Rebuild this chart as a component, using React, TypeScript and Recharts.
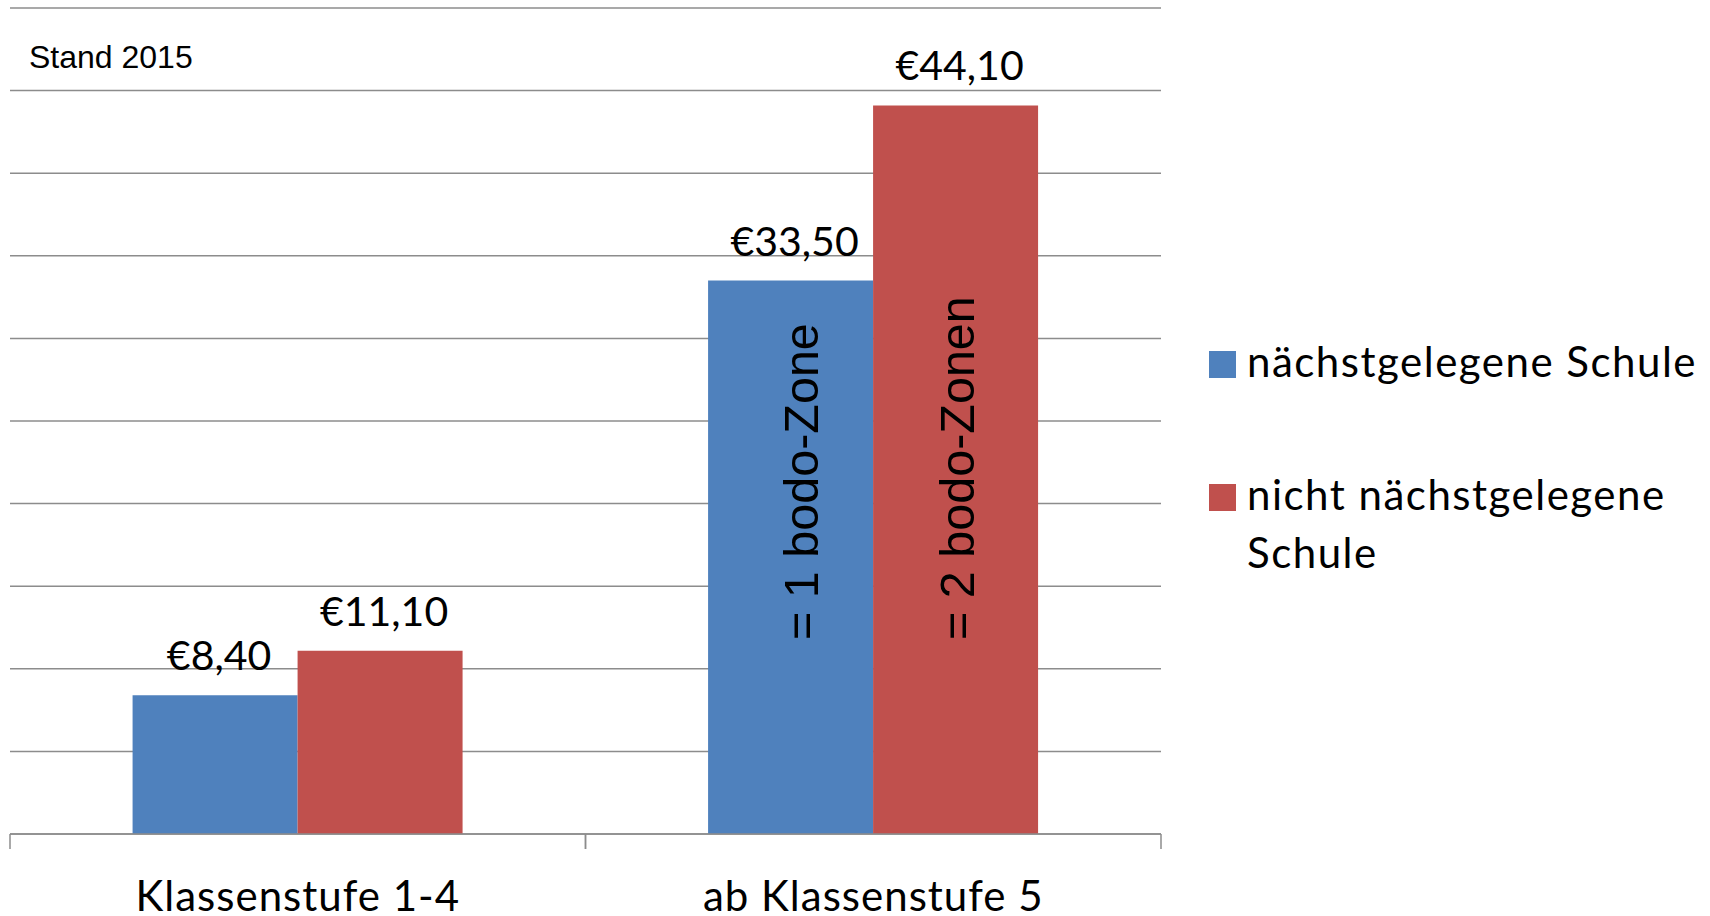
import React from 'react';
import { BarChart, Bar, XAxis, YAxis, CartesianGrid, LabelList, Legend } from 'recharts';

const categories = ['Klassenstufe 1-4', 'ab Klassenstufe 5'];
const naechstgelegene = [8.4, 33.5];
const nichtNaechstgelegene = [11.1, 44.1];
const zoneNotesA = ['', '= 1 bodo-Zone'];
const zoneNotesB = ['', '= 2 bodo-Zonen'];
const seriesNames = ['nächstgelegene Schule', 'nicht nächstgelegene Schule'];
const yTicks = [0, 5, 10, 15, 20, 25, 30, 35, 40, 45, 50];
const subtitle = 'Stand 2015';

const BLUE = '#4F81BD';
const RED = '#C0504D';
const GRID = '#8c8c8c';
const LABEL_FONT = 'Lato, "Open Sans", sans-serif';
const TICK_MARGIN = 47;
const TICK_LEN = 15;

const data = categories.map((c, i) => ({
  cat: c,
  a: naechstgelegene[i],
  b: nichtNaechstgelegene[i],
  na: zoneNotesA[i],
  nb: zoneNotesB[i],
}));

const euro = (v: any) => `€${Number(v).toFixed(2).replace('.', ',')}`;

const makeZoneLabel = (dx: number) => (props: any) => {
  const { x, y, width, height, value } = props;
  if (!value) return null;
  const cx = Number(x) + Number(width) / 2 + dx;
  const cy = Number(y) + Number(height) - 194;
  return (
    <text
      x={cx}
      y={cy}
      transform={`rotate(-90 ${cx} ${cy})`}
      textAnchor="start"
      fontFamily='"Liberation Sans", Arial, sans-serif'
      fontSize={48.5}
      fill="#000"
    >
      {value}
    </text>
  );
};

const renderCatTick = (props: any) => {
  const { x, y, payload } = props;
  const half = Number(payload && payload.offset) || 0;
  const axisY = Number(y) - TICK_MARGIN;
  return (
    <g>
      <line x1={x - half} x2={x - half} y1={axisY} y2={axisY + TICK_LEN} stroke={GRID} strokeWidth={1.5} />
      <line x1={x + half} x2={x + half} y1={axisY} y2={axisY + TICK_LEN} stroke={GRID} strokeWidth={1.5} />
      <text
        x={x}
        y={y}
        dy="0.71em"
        textAnchor="middle"
        fontFamily={LABEL_FONT}
        fontSize={42}
        letterSpacing={1}
        fill="#000"
      >
        {payload.value}
      </text>
    </g>
  );
};

const renderLegend = (props: any) => {
  const payload = [...(props.payload || [])].sort(
    (p: any, q: any) => seriesNames.indexOf(p.value) - seriesNames.indexOf(q.value)
  );
  return (
    <div style={{ fontFamily: LABEL_FONT, fontSize: 42, letterSpacing: 1.5, lineHeight: '58px', color: '#000' }}>
      {payload.map((entry: any, i: number) => (
        <div
          key={i}
          style={{ display: 'flex', alignItems: 'flex-start', marginBottom: i === 0 ? 75 : 0 }}
        >
          <span
            style={{
              width: 27,
              height: 27,
              background: entry.color,
              marginTop: 19,
              marginRight: 11,
              flex: 'none',
              display: 'inline-block',
            }}
          />
          <span style={{ width: 455 }}>{entry.value}</span>
        </div>
      ))}
    </div>
  );
};

export default function App() {
  return (
    <div style={{ position: 'absolute', left: 0, top: 0, width: 1710, height: 916 }}>
      <BarChart
        width={1710}
        height={916}
        data={data}
        margin={{ top: 8, right: 49, left: 10, bottom: 0 }}
        barCategoryGap="21.3%"
        barGap={0}
      >
        <CartesianGrid vertical={false} stroke={GRID} strokeWidth={1.5} />
        <XAxis
          dataKey="cat"
          tickLine={false}
          tickSize={0}
          tickMargin={TICK_MARGIN}
          height={82}
          axisLine={{ stroke: GRID, strokeWidth: 1.5 }}
          tick={renderCatTick}
          interval={0}
        />
        <YAxis hide domain={[0, 50]} ticks={yTicks} />
        <Legend
          layout="vertical"
          align="right"
          verticalAlign="middle"
          content={renderLegend}
          wrapperStyle={{ left: 1209, top: 332, width: 500 }}
        />
        <Bar dataKey="a" name={seriesNames[0]} fill={BLUE} isAnimationActive={false}>
          <LabelList
            dataKey="a"
            position="top"
            offset={25}
            formatter={euro}
            dx={4}
            style={{ fontFamily: LABEL_FONT, fontSize: 41, fill: '#000' }}
          />
          <LabelList dataKey="na" content={makeZoneLabel(27)} />
        </Bar>
        <Bar dataKey="b" name={seriesNames[1]} fill={RED} isAnimationActive={false}>
          <LabelList
            dataKey="b"
            position="top"
            offset={25}
            formatter={euro}
            dx={4}
            style={{ fontFamily: LABEL_FONT, fontSize: 41, fill: '#000' }}
          />
          <LabelList dataKey="nb" content={makeZoneLabel(18)} />
        </Bar>
      </BarChart>
      <div
        style={{
          position: 'absolute',
          left: 29,
          top: 41,
          fontFamily: '"Liberation Sans", Arial, sans-serif',
          fontSize: 32,
          lineHeight: 1,
          color: '#000',
        }}
      >
        {subtitle}
      </div>
    </div>
  );
}
